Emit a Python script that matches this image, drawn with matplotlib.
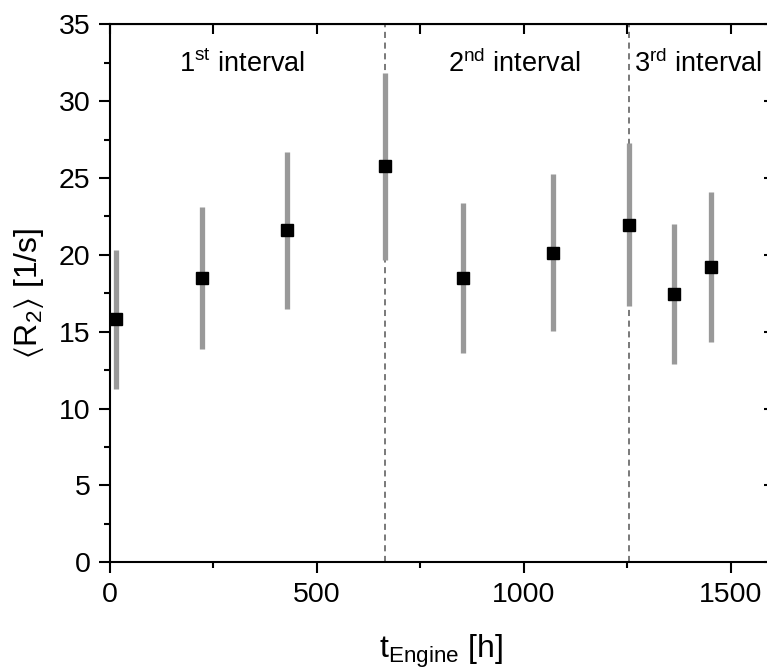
import numpy as np
import matplotlib
matplotlib.use("Agg")
import matplotlib.pyplot as plt
from matplotlib.ticker import MultipleLocator

# Data
t_engine = [14, 222, 427, 665, 854, 1071, 1255, 1364, 1452]
r2_mean = [15.8, 18.5, 21.6, 25.75, 18.5, 20.15, 21.95, 17.45, 19.2]
r2_err = [4.5, 4.6, 5.1, 6.1, 4.9, 5.1, 5.3, 4.55, 4.9]

interval_bounds = [665, 1255]
interval_labels = [r"1$^{\mathrm{st}}$ interval", r"2$^{\mathrm{nd}}$ interval", r"3$^{\mathrm{rd}}$ interval"]
interval_label_x = [320, 976, 1422]

plt.rcParams["font.family"] = ["Liberation Sans", "DejaVu Sans"]
plt.rcParams["mathtext.fontset"] = "custom"
plt.rcParams["mathtext.rm"] = "Liberation Sans"
plt.rcParams["mathtext.it"] = "Liberation Sans:italic"
plt.rcParams["mathtext.default"] = "regular"

fig = plt.figure(figsize=(7.67, 6.70), dpi=100)
ax = fig.add_axes([110 / 767, 107.7 / 670, 662 / 767, 538 / 670])

# Interval separators
for xb in interval_bounds:
    ax.axvline(xb, color="#555555", linestyle=(0, (4, 3)), linewidth=1.1, zorder=1)

ax.errorbar(t_engine, r2_mean, yerr=r2_err, fmt="none", ecolor="#999999",
            elinewidth=3.8, capsize=0, zorder=2)
ax.plot(t_engine, r2_mean, "s", color="black", markersize=8.5, zorder=3)

for xl, lab in zip(interval_label_x, interval_labels):
    ax.text(xl, 31.9, lab, ha="center", va="baseline", fontsize=19.5)

ax.set_xlim(0, 1600)
ax.set_ylim(0, 35)
ax.xaxis.set_major_locator(MultipleLocator(500))
ax.xaxis.set_minor_locator(MultipleLocator(250))
ax.yaxis.set_major_locator(MultipleLocator(5))
ax.yaxis.set_minor_locator(MultipleLocator(2.5))

ax.tick_params(which="major", direction="out", length=8, width=1.5, labelsize=20.5, pad=6)
ax.tick_params(which="minor", direction="out", length=4, width=1.5)
for s in ax.spines.values():
    s.set_linewidth(1.5)

# Mirrored ticks on top and right (inward)
top = ax.secondary_xaxis("top")
top.xaxis.set_major_locator(MultipleLocator(250))
top.tick_params(direction="in", length=7, width=1.5, labeltop=False)
right = ax.secondary_yaxis("right")
right.yaxis.set_major_locator(MultipleLocator(5))
right.tick_params(direction="in", length=6, width=1.5, labelright=False)

ax.set_xlabel(r"$\mathrm{t}_{\mathrm{Engine}}$ [h]", fontsize=23, labelpad=18)
ax.set_ylabel(r"$\langle\mathrm{R}_{2}\rangle$ [1/s]", fontsize=23, labelpad=9)

fig.savefig("out.png", dpi=100)
